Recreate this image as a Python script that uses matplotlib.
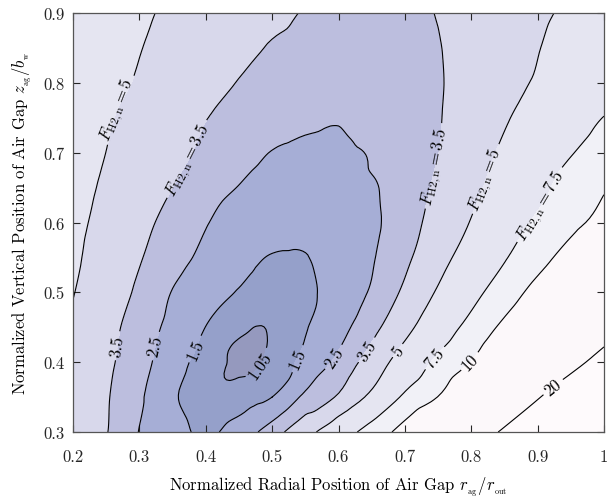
import numpy as np
import matplotlib
matplotlib.use("Agg")
import matplotlib.pyplot as plt
import matplotlib.tri as mtri
from matplotlib.ticker import FuncFormatter, MultipleLocator

plt.rcParams["font.family"] = "serif"
plt.rcParams["font.serif"] = ["cmr10"]
plt.rcParams["mathtext.fontset"] = "cm"
plt.rcParams["axes.formatter.use_mathtext"] = True
plt.rcParams["axes.unicode_minus"] = False

# ---- data ----
r_ag = [0.20, 0.25, 0.30, 0.35, 0.40, 0.45, 0.50, 0.55, 0.60,
        0.65, 0.70, 0.75, 0.80, 0.85, 0.90, 0.95, 1.00]
z_ag = [0.30, 0.35, 0.40, 0.45, 0.50, 0.55, 0.60, 0.65, 0.70,
        0.75, 0.80, 0.85, 0.90]
F_H2n = [
    [4.30, 3.55, 2.47, 1.88, 1.35, 1.95, 3.00, 4.46, 6.31, 8.46, 11.1, 14.3, 17.5, 20.6, 24.0, 28.0, 32.0],
    [4.45, 3.60, 2.64, 1.62, 1.25, 1.25, 1.50, 2.72, 3.66, 5.41, 7.89, 10.06, 13.3, 16.5, 19.7, 23.0, 26.5],
    [4.60, 3.74, 2.85, 1.95, 1.30, 0.98, 1.14, 1.74, 2.75, 4.07, 5.90, 7.97, 10.1, 13.0, 15.9, 18.7, 21.6],
    [4.80, 3.88, 3.02, 2.22, 1.49, 1.12, 1.08, 1.45, 2.17, 3.15, 4.53, 6.27, 8.23, 10.6, 13.0, 15.6, 18.2],
    [5.05, 4.16, 3.31, 2.46, 1.93, 1.45, 1.25, 1.33, 1.90, 2.61, 3.73, 5.17, 6.83, 8.71, 10.9, 13.2, 15.5],
    [5.25, 4.33, 3.58, 2.86, 2.28, 1.85, 1.46, 1.47, 1.91, 2.42, 3.26, 4.43, 5.81, 7.32, 9.07, 11.1, 13.2],
    [5.40, 4.55, 3.82, 3.16, 2.56, 2.28, 2.04, 1.82, 1.90, 2.30, 3.05, 3.95, 5.08, 6.46, 7.85, 9.32, 10.8],
    [5.60, 4.77, 4.14, 3.50, 2.96, 2.47, 2.30, 2.20, 2.22, 2.40, 2.99, 3.67, 4.62, 5.71, 6.90, 8.40, 9.80],
    [5.80, 4.99, 4.40, 3.82, 3.30, 2.88, 2.47, 2.37, 2.36, 2.56, 3.02, 3.48, 4.34, 5.26, 6.32, 7.39, 8.40],
    [6.00, 5.15, 4.60, 4.06, 3.53, 3.26, 3.01, 2.75, 2.56, 2.89, 3.16, 3.44, 4.10, 4.85, 5.71, 6.60, 7.55],
    [6.20, 5.50, 4.86, 4.39, 3.92, 3.46, 3.20, 3.00, 2.92, 3.00, 3.18, 3.42, 3.97, 4.58, 5.15, 5.75, 6.40],
    [6.40, 5.70, 5.05, 4.64, 4.23, 3.82, 3.42, 3.25, 3.17, 3.20, 3.30, 3.46, 3.92, 4.43, 4.95, 5.50, 6.00],
    [6.60, 5.80, 5.20, 4.81, 4.46, 4.11, 3.75, 3.45, 3.35, 3.33, 3.40, 3.53, 3.96, 4.38, 4.79, 5.20, 5.60],
]
# extra samples read near the minimum (cell centres)
extra_r = [0.375, 0.425, 0.475, 0.525, 0.575,
           0.375, 0.425, 0.475, 0.525, 0.575,
           0.375, 0.425, 0.475, 0.525, 0.575,
           0.375, 0.425, 0.475, 0.525, 0.575,
           0.375, 0.425, 0.475, 0.525, 0.575, 0.675,
           0.425, 0.475, 0.525, 0.575, 0.625, 0.675,
           0.425, 0.475, 0.525, 0.575, 0.625, 0.675,
           0.425, 0.475, 0.525, 0.575, 0.625, 0.675,
           0.475, 0.525, 0.575, 0.625, 0.675]
extra_z = [0.325] * 5 + [0.375] * 5 + [0.425] * 5 + [0.475] * 5 + [0.525] * 6 \
    + [0.575] * 6 + [0.625] * 6 + [0.675] * 6 + [0.725] * 5
extra_F = [1.44, 1.31, 1.75, 2.80, 3.92,
           1.39, 1.063, 1.12, 1.50, 2.73,
           1.65, 1.13, 1.01, 1.25, 1.90,
           1.95, 1.43, 1.14, 1.19, 1.62,
           2.36, 1.85, 1.44, 1.33, 1.60, 2.92,
           2.13, 1.77, 1.61, 1.67, 2.03, 2.73,
           2.46, 2.14, 2.01, 2.04, 2.24, 2.66,
           2.90, 2.47, 2.31, 2.29, 2.39, 2.73,
           2.92, 2.58, 2.45, 2.56, 2.92]

contour_levels = [1.05, 1.5, 2.5, 3.5, 5, 7.5, 10, 20]
level_text = ["1.05", "1.5", "2.5", "3.5", "5", "7.5", "10", "20"]
band_colors = ["#9599BE", "#95A0CA", "#A6AED6", "#BCBEDE", "#D8D8EB",
               "#E5E5F1", "#F1F1F7", "#FCF8FA", "#FEFAFC"]

# ---- figure ----
fig = plt.figure(figsize=(6.08, 5.02), dpi=100)
ax = fig.add_axes([73 / 608, 69 / 502, 531 / 608, 419 / 502])

X, Y = np.meshgrid(np.array(r_ag), np.array(z_ag))
px = np.concatenate([X.ravel(), np.array(extra_r)])
py = np.concatenate([Y.ravel(), np.array(extra_z)])
pz = np.concatenate([np.array(F_H2n).ravel(), np.array(extra_F)])
tri = mtri.Triangulation(px, py)
interp = mtri.CubicTriInterpolator(tri, pz, kind="geom")
refiner = mtri.UniformTriRefiner(tri)
tri_f, Z_f = refiner.refine_field(pz, triinterpolator=interp, subdiv=3)

fill_levels = [0.0] + contour_levels + [100.0]
ax.tricontourf(tri_f, Z_f, levels=fill_levels, colors=band_colors)
cs = ax.tricontour(tri_f, Z_f, levels=contour_levels, colors="black",
                   linewidths=0.8)

fmt_plain = {lev: txt for lev, txt in zip(contour_levels, level_text)}
fmt_named = {lev: r"$F_{\mathrm{H2,n}} = " + txt + "$"
             for lev, txt in zip(contour_levels, level_text)}

# named labels (upper part)
named_pos = [(0.266, 0.763), (0.372, 0.691), (0.745, 0.681),
             (0.82, 0.663), (0.906, 0.624)]
ax.clabel(cs, manual=named_pos, fmt=fmt_named,
          fontsize=12, inline=True, inline_spacing=4)
# plain labels (lower part)
plain_pos = [(0.263, 0.424), (0.32, 0.424), (0.38, 0.42), (0.473, 0.401),
             (0.536, 0.406), (0.595, 0.406), (0.645, 0.416), (0.69, 0.416),
             (0.745, 0.406), (0.798, 0.401), (0.922, 0.366)]
ax.clabel(cs, manual=plain_pos, fmt=fmt_plain,
          fontsize=12, inline=True, inline_spacing=4)

ax.set_xlim(0.2, 1.0)
ax.set_ylim(0.3, 0.9)
ax.xaxis.set_major_locator(MultipleLocator(0.1))
ax.yaxis.set_major_locator(MultipleLocator(0.1))
fmt = FuncFormatter(lambda v, p: f"{v:g}")
ax.xaxis.set_major_formatter(fmt)
ax.yaxis.set_major_formatter(fmt)
ax.tick_params(direction="in", top=True, right=True, length=5, width=0.8,
               labelsize=12, colors="#262626")
ax.tick_params(axis="x", pad=12)
ax.tick_params(axis="y", pad=6)
for s in ax.spines.values():
    s.set_color("#555555")
    s.set_linewidth(0.9)

ax.set_xlabel(r"Normalized Radial Position of Air Gap $r_{_{\mathrm{ag}}}/r_{_{\mathrm{out}}}$",
              fontsize=12, labelpad=8)
ax.set_ylabel(r"Normalized Vertical Position of Air Gap $z_{_{\mathrm{ag}}}/b_{_{\mathrm{w}}}$",
              fontsize=12, labelpad=6)

fig.savefig("out.png", dpi=100)
